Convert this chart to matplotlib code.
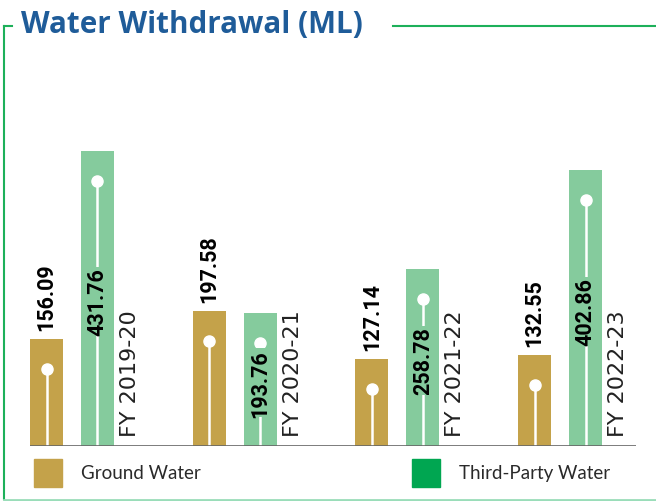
import matplotlib
matplotlib.use("Agg")
import matplotlib.pyplot as plt
from matplotlib.patches import Rectangle

categories = ["FY 2019-20", "FY 2020-21", "FY 2021-22", "FY 2022-23"]
ground_water = [156.09, 197.58, 127.14, 132.55]
third_party = [431.76, 193.76, 258.78, 402.86]
series_names = ["Ground Water", "Third-Party Water"]

GOLD = "#C4A24A"
GREEN_BAR = "#85CB9D"
GREEN_LEG = "#00A651"
TITLE_C = "#1F5C99"

W, H = 656, 502
fig = plt.figure(figsize=(W / 100, H / 100), dpi=100)

# frame lines in pixel space
fax = fig.add_axes([0, 0, 1, 1])
fax.set_xlim(0, W)
fax.set_ylim(H, 0)
fax.axis("off")
fax.plot([4, 4], [27, 500], color="#1DB05A", lw=1.5)
fax.plot([4, 12], [27, 27], color="#1DB05A", lw=1.5)
fax.plot([393, 656], [27, 27], color="#1DB05A", lw=1.5)
fax.plot([4, 656], [500.5, 500.5], color="#9ADDB9", lw=2)
fax.text(21, 25, "Water Withdrawal (ML)", color=TITLE_C, fontsize=21.3,
         fontweight="bold", family="Open Sans", va="center", ha="left")

# legend
fax.add_patch(Rectangle((34, 460), 28, 28, color=GOLD))
fax.add_patch(Rectangle((412, 460), 28, 28, color=GREEN_LEG))
fax.text(81, 474, series_names[0], fontsize=13.5, color="#2A2A2A",
         family="Lato", va="center", ha="left")
fax.text(459, 474, series_names[1], fontsize=13.5, color="#2A2A2A",
         family="Lato", va="center", ha="left")

# main axes
x0, x1, base, top = 30, 636, 447, 60
ax = fig.add_axes([x0 / W, (H - base) / H, (x1 - x0) / W, (base - top) / H])
ymax = (base - top) / 0.684
ax.set_ylim(0, ymax)
ax.set_xlim(-0.258, 3.466)
ax.axis("off")
ax.axhline(0, color="#666666", lw=1.2, zorder=5)

bw = 0.2025
off = 0.1565
px = ymax / (base - top)  # data units per pixel
for i, cat in enumerate(categories):
    for j, (vals, col) in enumerate([(ground_water, GOLD), (third_party, GREEN_BAR)]):
        v = vals[i]
        xc = i - off if j == 0 else i + off
        ax.bar(xc, v, width=bw, color=col, zorder=2)
        dot = v - 30 * px
        ax.plot([xc, xc], [0, dot], color="white", lw=1.8, zorder=3)
        ax.plot(xc, dot, "o", color="white", ms=8, zorder=3)
        lab = f"{v:.2f}"
        if j == 0:
            ax.text(xc, v + 9 * px, lab, rotation=90, ha="center", va="bottom",
                    fontsize=15.5, fontweight="bold", family="Roboto", color="black", zorder=4)
        else:
            ax.text(xc, v / 2 - 3 * px, lab, rotation=90, ha="center", va="center",
                    fontsize=15.5, fontweight="bold", family="Roboto", color="black", zorder=4,
                    bbox=dict(facecolor=col, edgecolor="none", pad=0.5))
    ax.text(i + 0.356, 10 * px, cat, rotation=90, ha="center", va="bottom",
            fontsize=16, family="DejaVu Sans", color="#222222", zorder=4)

fig.savefig("out.png", dpi=100)
